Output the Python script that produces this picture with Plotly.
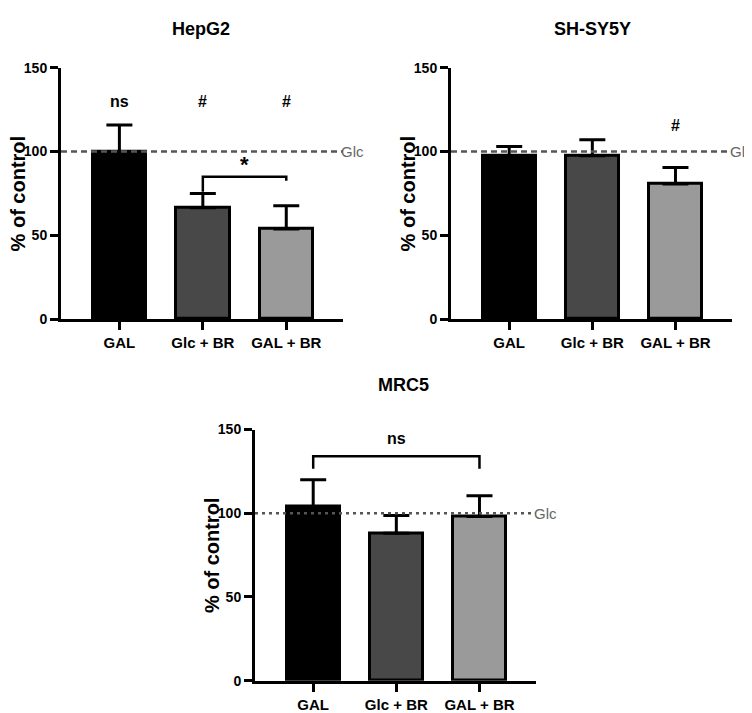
import plotly.graph_objects as go

# 데이터
groups = ["GAL", "Glc + BR", "GAL + BR"]
bar_colors = ["#000000", "#484848", "#9a9a9a"]

hepg2_mean = [100, 66.5, 53.7]
hepg2_err = [15.8, 8.5, 14.0]
hepg2_marks = ["ns", "#", "#"]

shsy5y_mean = [97.5, 97.5, 80.7]
shsy5y_err = [5.5, 9.5, 9.8]
shsy5y_marks = ["", "", "#"]

mrc5_mean = [104, 88, 98]
mrc5_err = [16.0, 10.6, 12.5]

W, H = 752, 713
FONT = "Liberation Sans, Arial"


def px_x(p):
    return p / W


def px_y(p):
    return 1 - p / H


fig = go.Figure()

# 패널 위치 (픽셀)
panels = [
    dict(name="HepG2", xa="x", ya="y", x0=53, x1=335, y0=310, y1=53,
         mean=hepg2_mean, err=hepg2_err, title_x=193, title_y=13, dash="6px,4px"),
    dict(name="SH-SY5Y", xa="x2", ya="y2", x0=443, x1=724, y0=310, y1=53,
         mean=shsy5y_mean, err=shsy5y_err, title_x=584, title_y=13, dash="6px,4px"),
    dict(name="MRC5", xa="x3", ya="y3", x0=247, x1=528, y0=680, y1=423,
         mean=mrc5_mean, err=mrc5_err, title_x=395, title_y=377, dash="3px,4px"),
]

for i, p in enumerate(panels):
    fig.add_trace(go.Bar(
        x=groups, y=p["mean"],
        xaxis=p["xa"], yaxis=p["ya"],
        width=0.64,
        marker=dict(color=bar_colors, line=dict(color="black", width=3)),
        error_y=dict(type="data", symmetric=False, array=p["err"],
                     arrayminus=[0] * len(p["err"]),
                     color="black", thickness=3, width=13),
        showlegend=False,
        hoverinfo="skip",
    ))

    sfx = "" if i == 0 else str(i + 1)
    axis_common = dict(
        showline=True, linecolor="black", linewidth=3,
        ticks="outside", ticklen=8, tickwidth=3, tickcolor="black",
        showgrid=False, zeroline=False,
    )
    fig.layout["xaxis" + sfx] = dict(
        axis_common,
        domain=[px_x(p["x0"]), px_x(p["x1"])],
        anchor="y" + sfx,
        type="category",
        range=[-0.7, 2.68],
        tickfont=dict(family=FONT, size=15, color="black", weight="bold"),
    )
    fig.layout["yaxis" + sfx] = dict(
        axis_common,
        domain=[px_y(p["y0"]), px_y(p["y1"])],
        anchor="x" + sfx,
        range=[0, 150],
        tickvals=[0, 50, 100, 150],
        tickfont=dict(family=FONT, size=14, color="black", weight="bold"),
    )

    # Glc 기준선
    fig.add_shape(type="line", xref=p["xa"] + " domain", yref=p["ya"],
                  x0=0, x1=1, y0=100, y1=100, layer="above",
                  line=dict(color="#555555", width=2.5, dash=p["dash"]))
    fig.add_annotation(xref=p["xa"] + " domain", yref=p["ya"], x=1.0, y=100,
                       text="Glc", showarrow=False, xanchor="left", xshift=-3,
                       borderpad=0,
                       font=dict(family=FONT, size=15, color="#666666"))

    # 타이틀
    fig.add_annotation(xref="paper", yref="paper", x=px_x(p["title_x"]), y=px_y(p["title_y"]),
                       text="<b>" + p["name"] + "</b>", showarrow=False,
                       xanchor="center", yanchor="middle",
                       font=dict(family=FONT, size=18, color="black"))

    # y축 제목
    fig.add_annotation(xref="paper", yref="paper", x=px_x(p["x0"] - 43),
                       y=px_y((p["y0"] + p["y1"]) / 2),
                       text="<b>% of control</b>", showarrow=False, textangle=-90,
                       xanchor="center", yanchor="middle",
                       font=dict(family=FONT, size=20, color="black"))

# 유의성 표시
for xa, ya, marks, yv in [("x", "y", hepg2_marks, 130), ("x2", "y2", shsy5y_marks, 115.6)]:
    for g, m in zip(groups, marks):
        if m:
            fig.add_annotation(xref=xa, yref=ya, x=g, y=yv, text="<b>" + m + "</b>",
                               showarrow=False, yanchor="middle",
                               font=dict(family=FONT, size=16, color="black"))

# HepG2 브래킷
fig.add_shape(type="path", xref="x", yref="y",
              path="M 1,76 L 1,85 L 2,85 L 2,82.5", line=dict(color="black", width=2.5))
fig.add_annotation(xref="x", yref="y", x=1.5, y=92, text="<b>*</b>", showarrow=False,
                   yanchor="middle", font=dict(family=FONT, size=22, color="black"))

# MRC5 브래킷
fig.add_shape(type="path", xref="x3", yref="y3",
              path="M 0,126.5 L 0,134 L 2,134 L 2,126.5", line=dict(color="black", width=2.5))
fig.add_annotation(xref="x3", yref="y3", x=1, y=144.5, text="<b>ns</b>", showarrow=False,
                   yanchor="middle", font=dict(family=FONT, size=16, color="black"))

fig.update_layout(
    width=W, height=H,
    margin=dict(l=0, r=0, t=0, b=0),
    paper_bgcolor="white", plot_bgcolor="white",
    bargap=0,
)

fig.write_html("out.html")
